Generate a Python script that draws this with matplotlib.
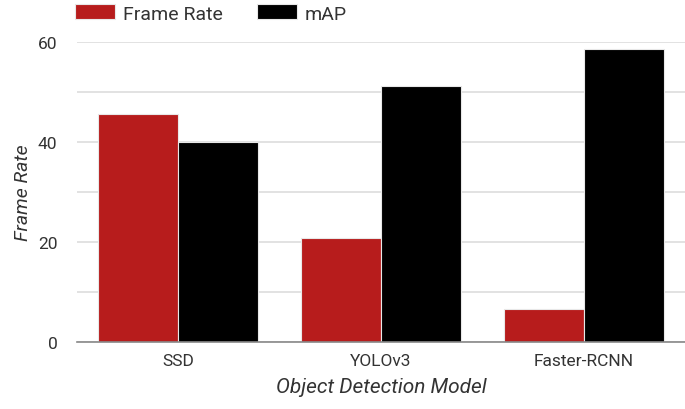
import matplotlib.pyplot as plt
import numpy as np

models = ['SSD', 'YOLOv3', 'Faster-RCNN']
frame_rate = [45.6, 20.8, 6.7]
map_score = [40.0, 51.2, 58.7]

plt.rcParams['font.family'] = ['Roboto', 'DejaVu Sans']

fig = plt.figure(figsize=(6.85, 4.1), dpi=100)
ax = fig.add_axes([0.112, 0.163, 0.888, 0.732])

x = np.arange(len(models))
width = 0.395
ax.bar(x - width / 2, frame_rate, width, color='#b71c1c', edgecolor='#e8e8e8',
       linewidth=0.8, label='Frame Rate', zorder=3)
ax.bar(x + width / 2, map_score, width, color='#000000', edgecolor='#e8e8e8',
       linewidth=0.8, label='mAP', zorder=3)

ax.set_xlim(-0.5, 2.5)
ax.set_ylim(0, 60)
ax.set_yticks([0, 20, 40, 60])
ax.set_yticks([10, 30, 50], minor=True)
ax.set_xticks(x)
ax.set_xticklabels(models)
ax.grid(axis='y', which='both', color='#dddddd', linewidth=1.2, zorder=0)
ax.set_axisbelow(True)
for s in ['top', 'right', 'left']:
    ax.spines[s].set_visible(False)
ax.spines['bottom'].set_color('#888888')
ax.spines['bottom'].set_linewidth(1.2)
ax.spines['bottom'].set_zorder(4)
ax.tick_params(axis='both', which='both', length=0, labelsize=12.5, labelcolor='#333333')
ax.tick_params(axis='y', pad=14)
ax.tick_params(axis='x', pad=8)

ax.set_ylabel('Frame Rate', fontsize=14, style='italic', color='#333333', labelpad=4)
ax.set_xlabel('Object Detection Model', fontsize=15, style='italic', color='#333333', labelpad=6)

ax.legend(loc='lower left', bbox_to_anchor=(-0.003, 1.065), ncol=2, frameon=False,
          fontsize=14, handlelength=2.05, handleheight=0.8, columnspacing=1.8,
          handletextpad=0.4, labelcolor='#333333', borderaxespad=0, borderpad=0)

fig.savefig('out.png', dpi=100)
